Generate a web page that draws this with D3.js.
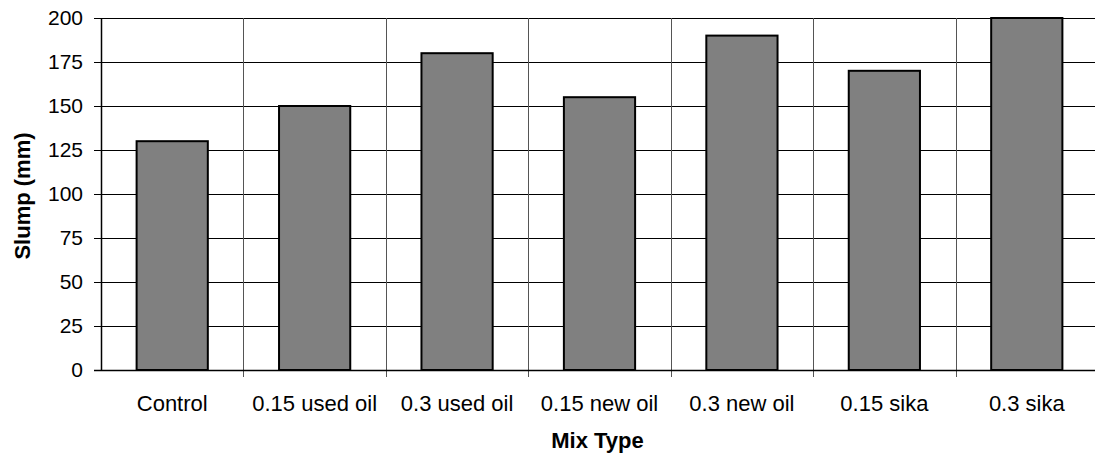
<!DOCTYPE html>
<html>
<head>
<meta charset="utf-8">
<script src="https://cdn.jsdelivr.net/npm/d3@7"></script>
<style>
  html, body { margin: 0; padding: 0; background: #fff; }
  svg { display: block; font-family: "Liberation Sans", Arial, sans-serif; }
</style>
</head>
<body>
<svg id="chart" width="1095" height="460"></svg>
<script>
// Slump test results per mix
const categories = ["Control", "0.15 used oil", "0.3 used oil", "0.15 new oil", "0.3 new oil", "0.15 sika", "0.3 sika"];
const slump = [130, 150, 180, 155, 190, 170, 200];
const yTicks = [0, 25, 50, 75, 100, 125, 150, 175, 200];
const xTitle = "Mix Type";
const yTitle = "Slump (mm)";

const svg = d3.select("#chart");
const margin = { left: 101, top: 18, right: -3, bottom: 90 };
const W = 1095, H = 460;
const x0 = margin.left, x1 = W - margin.right;
const y0 = H - margin.bottom, y1 = margin.top;

const x = d3.scaleBand().domain(categories).range([x0, x1]).paddingInner(0.5).paddingOuter(0.25);
const xBand = d3.scaleBand().domain(categories).range([x0, x1]);
const y = d3.scaleLinear().domain([0, 200]).range([y0, y1]);

// horizontal gridlines
svg.append("g")
  .selectAll("line").data(yTicks.filter(d => d > 0)).join("line")
  .attr("x1", x0).attr("x2", x1)
  .attr("y1", d => Math.round(y(d)) + 0.5).attr("y2", d => Math.round(y(d)) + 0.5)
  .attr("stroke", "#000").attr("stroke-width", 1);

// vertical category separators
const bounds = categories.slice(1).map(c => xBand(c));
svg.append("g")
  .selectAll("line").data(bounds).join("line")
  .attr("x1", d => Math.round(d) + 0.5).attr("x2", d => Math.round(d) + 0.5)
  .attr("y1", y1).attr("y2", y0 + 7)
  .attr("stroke", "#555").attr("stroke-width", 1);

// bars
svg.append("g")
  .selectAll("rect").data(slump).join("rect")
  .attr("x", (d, i) => x(categories[i]))
  .attr("width", x.bandwidth())
  .attr("y", d => y(d))
  .attr("height", d => y(0) - y(d))
  .attr("fill", "#808080")
  .attr("stroke", "#000")
  .attr("stroke-width", 2);

// y axis
const yAxis = d3.axisLeft(y).tickValues(yTicks).tickSize(7).tickPadding(11);
const gy = svg.append("g").attr("transform", `translate(${x0},0)`).call(yAxis);
gy.select(".domain").attr("stroke-width", 1.5).attr("d", `M0.5,${y1}V${y0}`);
gy.selectAll(".tick line").attr("stroke", "#000");
gy.selectAll("text").attr("font-size", 21).attr("fill", "#000")
  .attr("font-family", "'Liberation Sans', Arial, sans-serif");

// x axis
const xAxis = d3.axisBottom(x).tickSize(0).tickPadding(25);
const gx = svg.append("g").attr("transform", `translate(0,${Math.round(y0) + 0.5})`).call(xAxis);
gx.select(".domain").attr("d", `M${x0 - 7},0H${x1}`).attr("stroke", "#000").attr("stroke-width", 1.5);
gx.selectAll("text").attr("font-size", 22).attr("fill", "#000")
  .attr("font-family", "'Liberation Sans', Arial, sans-serif");

// axis titles
svg.append("text")
  .attr("x", (x0 + x1) / 2 - 2).attr("y", 448)
  .attr("text-anchor", "middle").attr("font-weight", "bold").attr("font-size", 22)
  .text(xTitle);

svg.append("text")
  .attr("transform", `translate(30,${(y0 + y1) / 2 + 2}) rotate(-90)`)
  .attr("text-anchor", "middle").attr("font-weight", "bold").attr("font-size", 22)
  .text(yTitle);
</script>
</body>
</html>
